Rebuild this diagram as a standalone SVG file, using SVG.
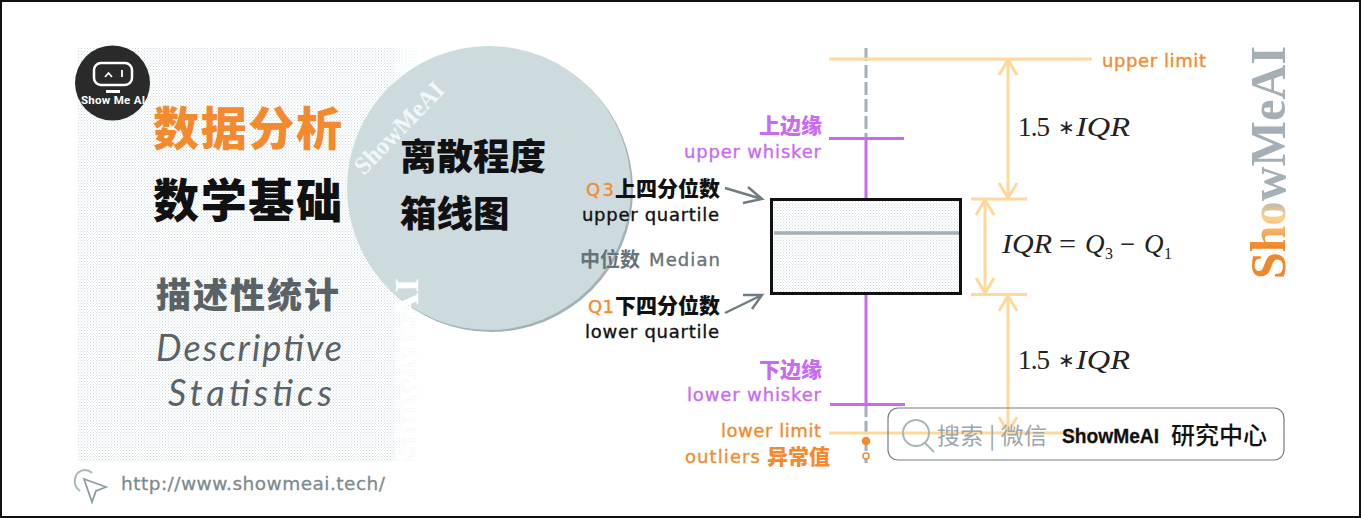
<svg xmlns="http://www.w3.org/2000/svg" width="1361" height="518" viewBox="0 0 1361 518">
<style>
.cjk{font-family:"Noto Sans CJK SC","Noto Sans",sans-serif}
.b{font-weight:900}
.lab{font-family:"DejaVu Sans",sans-serif;font-size:18px;stroke-width:.35}
.cl{font-family:"Noto Sans CJK SC",sans-serif;font-weight:900;font-size:21px}
.e{text-anchor:end}
.pu{fill:#C86BF2;stroke:#C86BF2}
.or{fill:#F38A2D;stroke:#F38A2D}
.bk{fill:#111;stroke:#111}
.gr{fill:#667378;stroke:#667378}
.cl.cl{stroke:none}
.m{font-family:"Liberation Serif",serif;font-size:27px;fill:#222}
.m.s{font-size:20px}
.m.u{font-size:16px}
.i{font-style:italic}
.lim{stroke:#FFD99B;stroke-width:3;fill:none}
.pur{stroke:#C86BF2;stroke-width:3;fill:none}
.wm{font-family:"Liberation Serif",serif;font-weight:700}
.hw{font-family:"Lato",sans-serif;font-style:italic;font-size:36px;fill:#596266;text-anchor:middle}
</style>
<defs>
<pattern id="dots" width="3" height="3" patternUnits="userSpaceOnUse"><rect width="3" height="3" fill="#fff"/><rect width="1" height="1" fill="#D0DBDF"/><rect x="1.500" y="1.500" width="1" height="1" fill="#D6E0E3"/></pattern>
<linearGradient id="wmg" x1="0" y1="0" x2="1" y2="0"><stop offset="0" stop-color="#F0882B"/><stop offset=".14" stop-color="#F0882B"/><stop offset=".26" stop-color="#FBD08F"/><stop offset=".36" stop-color="#A4B0B6"/><stop offset="1" stop-color="#A4B0B6"/></linearGradient>
</defs>
<rect x="1" y="1" width="1359" height="516" fill="#fff" stroke="#111" stroke-width="2"/>
<g id="panel">
<rect x="78" y="48" width="317" height="414" fill="url(#dots)"/>
<rect x="395" y="48" width="22" height="414" fill="url(#dots)" opacity=".45"/>
</g>
<g id="circle">
<circle cx="491" cy="190" r="142" fill="#A3B2B8"/>
<circle cx="489" cy="188" r="142" fill="#CDDBDE"/>
<text class="wm" transform="translate(364,176) rotate(-46)" font-size="25" fill="#F2F6F7" textLength="118" lengthAdjust="spacingAndGlyphs">ShowMeAI</text>
<text class="wm" transform="translate(418,462) rotate(-90)" font-size="33" fill="#fff" textLength="184" lengthAdjust="spacingAndGlyphs">ShowMeAI</text>
<text class="cjk b" x="400" y="170" font-size="36.500" fill="#111">离散程度</text>
<text class="cjk b" x="400" y="227" font-size="36.500" fill="#111">箱线图</text>
</g>
<g id="logo">
<circle cx="112.500" cy="83" r="37.500" fill="#2A2A2A"/>
<rect x="94" y="63" width="38" height="22" rx="7" fill="none" stroke="#fff" stroke-width="2.500"/>
<path d="M105 77l3.500-4 3.500 4M122 70v7" fill="none" stroke="#fff" stroke-width="1.800"/>
<rect x="106" y="90" width="14" height="3" fill="#fff"/>
<text x="113" y="104" font-family="Roboto,sans-serif" font-weight="700" font-size="11.500" fill="#fff" text-anchor="middle" textLength="64">Show Me AI</text>
</g>
<g id="title">
<text class="cjk b" x="153" y="145" font-size="46" fill="#F38A2D" textLength="189">数据分析</text>
<text class="cjk b" x="153" y="217" font-size="46" fill="#111" textLength="189">数学基础</text>
<text class="cjk b" x="156" y="308" font-size="35" fill="#596266" textLength="183">描述性统计</text>
<text class="hw" x="249" y="361" textLength="186">Descriptive</text>
<text class="hw" x="250" y="406" textLength="164">Statistics</text>
</g>
<g id="url">
<path d="M80 491A12 12 0 0 1 75 479A10 10 0 0 1 92 473" fill="none" stroke="#A9B6BB" stroke-width="2"/>
<path d="M84 479L106 487 96 491 92 502z" fill="#fff" stroke="#8E9DA3" stroke-width="1.800"/>
<text x="121" y="490" font-family="DejaVu Sans,sans-serif" font-size="18.500" fill="#7C8A90" stroke="#7C8A90" stroke-width=".3" textLength="264">http://www.showmeai.tech/</text>
</g>
<g id="connectors">
<path d="M866 48V138M866 404V463" stroke="#A3B0B6" stroke-width="3" stroke-dasharray="13 4" fill="none"/>
<path class="pur" d="M866 138V199M866 294V404M829 138.500H904M830 404.500H905"/>
<path class="lim" d="M829 59H1092M971 199H1027M971 294.500H1027M829 433H1088"/>
<path class="lim" d="M1008 60V198M999 75L1008 60 1017 75M999 183L1008 198 1017 183M985 200V293M976 215L985 200 994 215M976 278L985 293 994 278M1008 296V432M999 311L1008 296 1017 311M999 417L1008 432 1017 417"/>
<path d="M725 188L762 199M748 187L762 199 743 203M725 313L762 295M743 295L762 295 752 309" fill="none" stroke="#6F7C82" stroke-width="2.500"/>
</g>
<g id="box">
<rect x="771.500" y="199.500" width="189" height="94" fill="url(#dots)" stroke="#111" stroke-width="3"/>
<path d="M774 233H959" stroke="#A3B0B6" stroke-width="3.500"/>
</g>
<g id="outliers">
<circle cx="866" cy="441" r="3.500" fill="#F38A2D" stroke="#F38A2D" stroke-width="1.500"/>
<circle cx="866" cy="456" r="3" fill="#fff" stroke="#F38A2D" stroke-width="1.500"/>
</g>
<g id="labels">
<text class="cl e pu" x="822" y="133">上边缘</text>
<text class="lab e pu" x="821" y="158" textLength="137">upper whisker</text>
<text class="lab or" x="586" y="196" textLength="28">Q3</text>
<text class="cl e bk" x="720" y="196">上四分位数</text>
<text class="lab e bk" x="719" y="221" textLength="137">upper quartile</text>
<text class="cjk e gr" x="640" y="267" font-size="20" font-weight="700" textLength="60" stroke-width="0">中位数</text>
<text class="lab e gr" x="720" y="266" textLength="71">Median</text>
<text class="lab or" x="588" y="313" textLength="26">Q1</text>
<text class="cl e bk" x="720" y="313">下四分位数</text>
<text class="lab e bk" x="719" y="338" textLength="134">lower quartile</text>
<text class="cl e pu" x="822" y="377">下边缘</text>
<text class="lab e pu" x="821" y="401" textLength="134">lower whisker</text>
<text class="lab e or" x="821" y="437" textLength="100">lower limit</text>
<text class="lab or" x="685" y="463" textLength="75">outliers</text>
<text class="cl e or" x="830" y="464">异常值</text>
<text class="lab or" x="1102" y="67" textLength="104">upper limit</text>
</g>
<g id="math">
<text class="m" x="1018" y="136" textLength="32">1.5</text><text class="m s" x="1058" y="134">∗</text>
<text class="m i" x="1076" y="136" textLength="54" lengthAdjust="spacingAndGlyphs">IQR</text>
<text class="m i" x="1002" y="253" textLength="50" lengthAdjust="spacingAndGlyphs">IQR</text>
<text class="m" x="1059" y="253" textLength="17" lengthAdjust="spacingAndGlyphs">=</text>
<text class="m i" x="1085" y="253">Q</text><text class="m u" x="1105" y="259">3</text>
<text class="m" x="1120" y="253" textLength="15" lengthAdjust="spacingAndGlyphs">−</text>
<text class="m i" x="1144" y="253">Q</text><text class="m u" x="1164" y="259">1</text>
<text class="m" x="1018" y="369" textLength="32">1.5</text><text class="m s" x="1058" y="367">∗</text>
<text class="m i" x="1076" y="369" textLength="54" lengthAdjust="spacingAndGlyphs">IQR</text>
</g>
<g id="watermark">
<text class="wm" transform="translate(1285,279) rotate(-90)" font-size="50" fill="url(#wmg)" textLength="233" lengthAdjust="spacingAndGlyphs">ShowMeAI</text>
</g>
<g id="search">
<rect x="888" y="408" width="396" height="52" rx="10" fill="none" stroke="#6F7C82" stroke-width="1.200"/>
<circle cx="916" cy="433" r="13" fill="none" stroke="#A9B6BB" stroke-width="2"/>
<path d="M925 443L934 452" stroke="#A9B6BB" stroke-width="2"/>
<text class="cjk" x="937" y="444" font-size="23" fill="#9AA7AD" textLength="110">搜索 | 微信</text>
<text x="1062" y="443" font-family="Liberation Sans,sans-serif" font-weight="700" font-size="21" fill="#111" stroke="#111" stroke-width=".3" textLength="97" lengthAdjust="spacingAndGlyphs">ShowMeAI</text>
<text class="cjk" x="1171" y="444" font-size="24" font-weight="500" fill="#111">研究中心</text>
</g>
</svg>
